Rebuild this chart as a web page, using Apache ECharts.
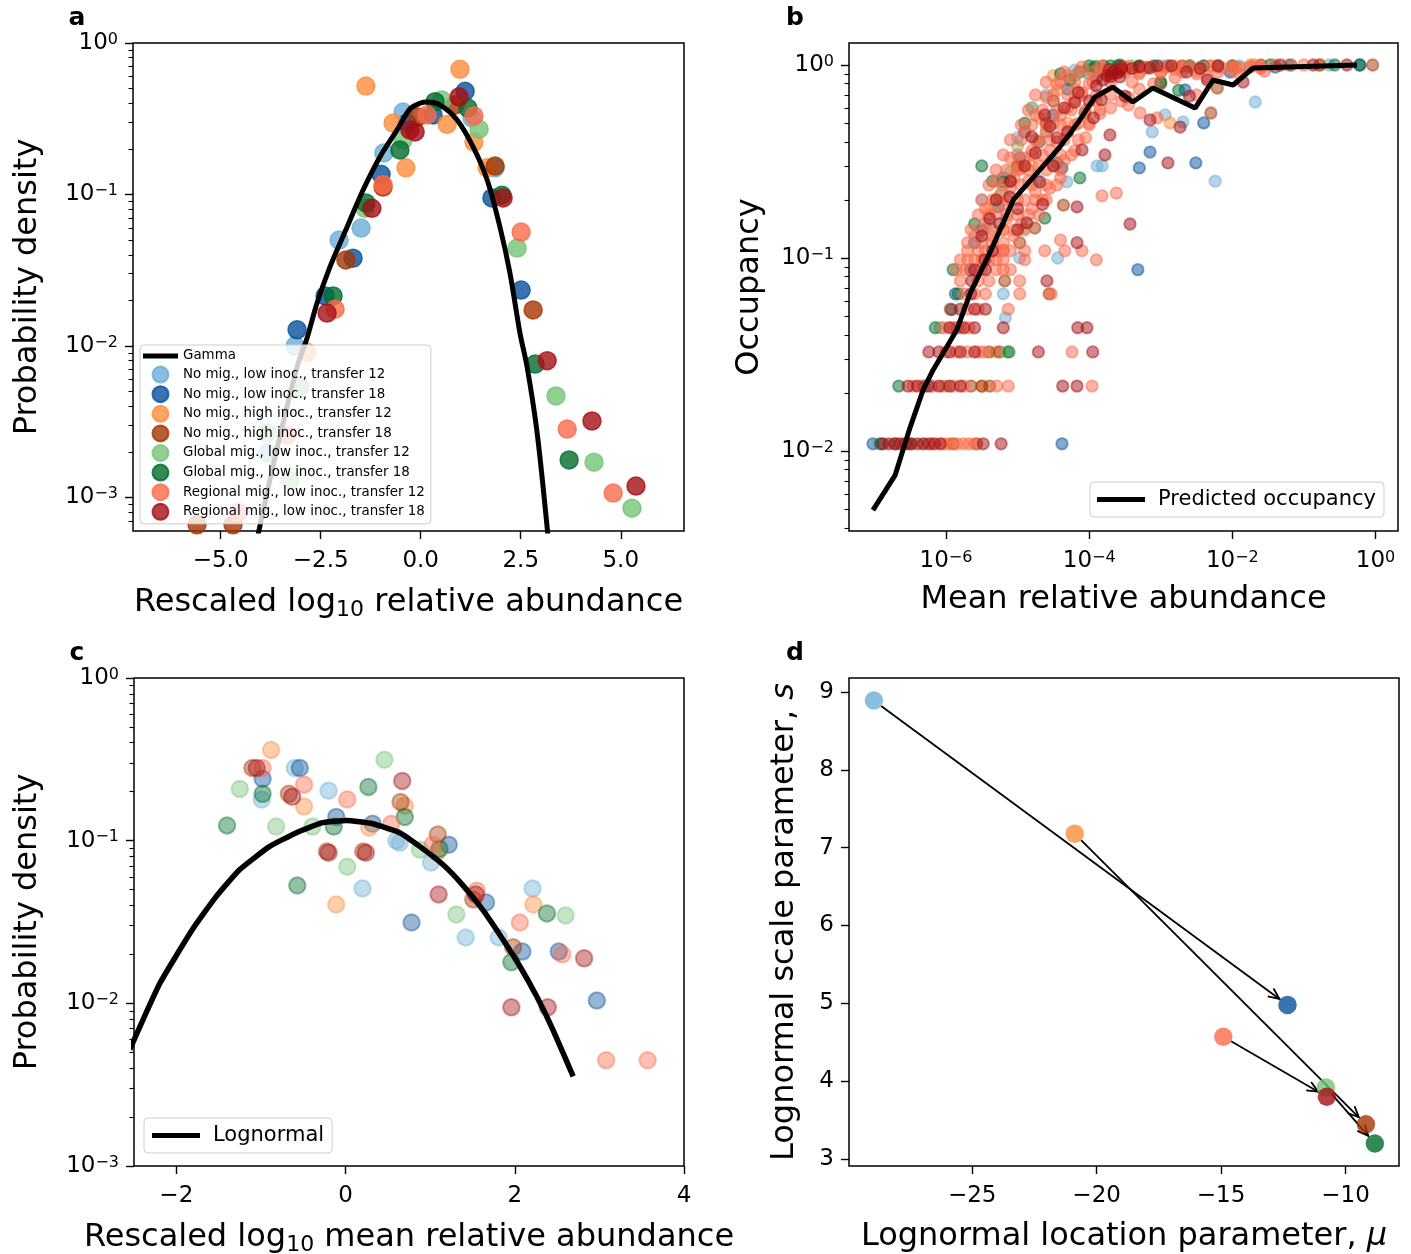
<!DOCTYPE html>
<html><head><meta charset="utf-8">
<script src="https://cdn.jsdelivr.net/npm/echarts@6/dist/echarts.min.js"></script>
<style>html,body{margin:0;padding:0;background:#fff}#chart{width:1411px;height:1254px}</style>
</head><body><div id="chart"></div>
<script>
const FONT = 'DejaVu Sans';
const NAMES = ['No mig., low inoc., transfer 12','No mig., low inoc., transfer 18','No mig., high inoc., transfer 12','No mig., high inoc., transfer 18','Global mig., low inoc., transfer 12','Global mig., low inoc., transfer 18','Regional mig., low inoc., transfer 12','Regional mig., low inoc., transfer 18'];
const COLORS = ['#6baed6','#08519c','#fd8d3c','#a63603','#74c476','#006d2c','#fb6a4a','#a50f15'];

// ---- Panel a: [rescaled log10 relative abundance, probability density]
const a_noLowT12 = [[-0.44,0.35],[-0.92,0.188],[-1.49,0.060],[-2.04,0.050],[-3.14,0.0100],[1.28,0.32],[1.86,0.15],[-3.82,0.00197]];
const a_noLowT18 = [[-0.34,0.296],[-0.99,0.136],[-1.69,0.038],[-2.39,0.0214],[-3.09,0.0128],[1.11,0.48],[0.31,0.335],[1.78,0.095],[2.51,0.0234]];
const a_noHighT12 = [[-1.37,0.52],[-0.69,0.296],[-0.37,0.150],[0.98,0.67],[0.66,0.29],[1.33,0.222],[1.66,0.150],[-2.84,0.0091]];
const a_noHighT18 = [[-0.94,0.112],[-1.87,0.037],[0.86,0.39],[-0.07,0.325],[1.86,0.154],[2.81,0.0173],[-5.59,0.00066],[-4.69,0.00066]];
const a_globalT12 = [[-0.44,0.229],[-1.39,0.081],[0.53,0.42],[1.46,0.27],[2.41,0.0443],[3.38,0.00468],[4.33,0.00171],[5.28,0.00085],[-3.84,0.00267],[-3.02,0.00536],[-3.27,0.0013]];
const a_globalT18 = [[-0.52,0.197],[-1.37,0.088],[-2.19,0.0214],[0.36,0.41],[1.18,0.372],[2.03,0.099],[2.86,0.0076],[3.71,0.00177]];
const a_regionalT12 = [[-0.94,0.116],[-2.14,0.0175],[1.33,0.33],[0.16,0.335],[2.51,0.0565],[3.66,0.00283],[4.81,0.00107],[-3.34,0.00259],[-4.57,0.0008]];
const a_regionalT18 = [[-0.27,0.267],[-1.22,0.081],[-2.34,0.0165],[0.96,0.44],[-0.14,0.259],[2.06,0.095],[3.16,0.0080],[4.28,0.0032],[5.38,0.00119]];
const a_gammaX = [-4.07,-3.77,-3.44,-3.09,-2.84,-2.59,-2.27,-1.84,-1.44,-1.02,-0.59,-0.27,-0.02,0.16,0.48,0.91,1.31,1.66,1.98,2.23,2.48,2.66,2.91,3.18];
const a_gammaY = [0.00056,0.0013,0.0031,0.00726,0.0113,0.0192,0.0332,0.061,0.107,0.177,0.267,0.367,0.40,0.408,0.39,0.31,0.206,0.125,0.061,0.0303,0.0122,0.00726,0.00267,0.00056];
const a_xTicks = [-5,-2.5,0,2.5,5];

// ---- Panel b: [log10 mean relative abundance, occupancy]
const b_noLowT12 = [[-6.9,0.0109],[-6.55,0.0109],[-6.2,0.0217],[-5.17,0.049],[-5.2,0.0652],[-4.97,0.1],[-4.44,0.1],[-4.31,0.248],[-3.89,0.30],[-3.82,0.30],[-4.73,0.254],[-3.12,0.45],[-2.94,0.551],[-2.69,0.507],[-2.24,0.25],[-1.68,0.643],[-1.22,1.0],[-0.65,1.0],[-4.6,0.70],[-4.2,0.94],[-5.5,0.2],[-5.0,0.42],[-3.6,0.98],[-3.0,0.99],[-2.4,0.99],
 [-5.4,0.15],[-4.8,0.6],[-4.0,0.9],[-3.2,0.97],[-1.9,0.99]];
const b_noLowT18 = [[-7.02,0.0109],[-4.38,0.0109],[-5.87,0.0652],[-5.92,0.054],[-5.66,0.087],[-4.97,0.33],[-5.27,0.184],[-4.38,0.293],[-4.13,0.92],[-3.32,0.087],[-3.15,0.354],[-3.30,0.293],[-2.51,0.311],[-2.40,0.501],[-2.03,0.92],[-2.66,0.742],[-1.40,0.976],[-0.22,1.0],[-4.5,0.55],[-3.9,0.85],[-5.6,0.12],
 [-5.5,0.14],[-5.2,0.26],[-4.9,0.45],[-4.3,0.75],[-3.6,0.99],[-2.9,0.99],[-2.2,0.99],[-6.7,0.0109]];
const b_noHighT12 = [[-6.0,0.0109],[-5.5,0.0217],[-5.3,0.0326],[-4.45,0.742],[-4.69,0.532],[-2.87,0.501],[-3.6,0.92],[-3.3,0.988],[-2.6,0.976],[-2.3,0.988],[-1.75,1.0],[-0.78,1.0],[-5.2,0.14],[-5.0,0.30],[-4.2,0.75],[-3.9,0.65],
 [-4.5,0.88],[-4.0,0.95],[-3.45,0.99],[-2.8,0.99],[-2.0,0.99],[-5.4,0.18],[-4.8,0.3],[-4.3,0.5]];
const b_noHighT18 = [[-5.9,0.0109],[-5.57,0.0109],[-5.65,0.0217],[-5.5,0.0217],[-5.39,0.0217],[-5.4,0.0326],[-5.25,0.0326],[-5.85,0.0435],[-5.94,0.0543],[-4.56,0.0652],[-5.18,0.0761],[-4.97,0.12],[-4.76,0.143],[-4.36,0.188],[-4.06,0.564],[-2.30,0.564],[-2.21,0.76],[-3.0,0.80],[-1.18,1.0],[-0.78,1.0],[-0.04,1.0],[-5.1,0.25],[-4.6,0.5],
 [-3.8,0.99],[-3.3,0.97],[-2.7,0.99],[-1.6,1.0],[-5.0,0.3],[-4.5,0.65]];
const b_globalT12 = [[-6.7,0.0109],[-6.3,0.0109],[-6.0,0.0217],[-5.15,0.0326],[-6.08,0.0435],[-4.9,0.143],[-5.3,0.2],[-5.22,0.22],[-4.06,0.92],[-3.6,0.988],[-2.59,0.988],[-1.75,0.976],[-4.6,0.45],[-5.0,0.38],[-3.2,0.96],
 [-4.2,0.88],[-3.9,0.99],[-3.4,0.99],[-2.9,0.99],[-2.2,0.99],[-5.1,0.28],[-4.8,0.6]];
const b_globalT18 = [[-6.92,0.0109],[-6.5,0.0109],[-6.66,0.0217],[-6.3,0.0217],[-5.12,0.0326],[-6.15,0.0435],[-5.83,0.0652],[-4.27,0.836],[-4.45,0.311],[-5.2,0.248],[-4.13,0.26],[-4.62,0.161],[-3.92,0.976],[-2.75,0.74],[-3.0,0.816],[-1.47,1.0],[-0.57,1.0],[-0.22,1.0],[-3.57,1.0],[-3.3,0.99],[-2.4,0.99],[-5.5,0.3],[-4.9,0.5],
 [-4.4,0.9],[-4.0,0.99],[-3.7,0.99],[-3.1,0.99],[-2.6,0.99],[-2.0,0.99],[-5.35,0.25],[-4.7,0.4],[-5.9,0.087],[-5.6,0.15]];
const b_regionalT12 = [
 [-6.6,0.0109],[-6.2,0.0109],[-6.05,0.0109],[-5.95,0.0109],[-5.85,0.0109],[-5.76,0.0109],[-5.68,0.0109],[-5.6,0.0109],
 [-6.46,0.0217],[-6.33,0.0217],[-6.2,0.0217],[-6.05,0.0217],[-5.9,0.0217],[-5.75,0.0217],[-5.29,0.0217],[-5.13,0.0217],[-3.96,0.0217],
 [-6.0,0.0326],[-5.85,0.0326],[-5.7,0.0326],[-5.55,0.0326],[-5.48,0.0326],[-4.24,0.0326],
 [-6.04,0.0435],[-5.9,0.0435],[-5.8,0.0435],[-5.68,0.0435],
 [-5.7,0.0543],[-5.55,0.0543],[-5.13,0.0543],
 [-5.75,0.0652],[-5.6,0.0652],[-5.45,0.0652],[-4.97,0.0652],[-4.53,0.0652],
 [-5.8,0.0761],[-5.55,0.0761],[-5.4,0.0761],[-4.97,0.0761],
 [-5.73,0.087],[-5.5,0.087],[-5.3,0.087],[-5.1,0.087],[-5.85,0.087],[-5.65,0.087],[-5.2,0.087],
 [-5.6,0.0978],[-5.4,0.0978],[-5.2,0.0978],[-4.9,0.0978],[-3.9,0.0978],[-5.8,0.0978],[-5.7,0.0978],[-5.5,0.0978],[-5.3,0.0978],
 [-5.55,0.109],[-5.3,0.109],[-4.9,0.109],[-4.62,0.109],[-4.34,0.109],[-5.7,0.109],[-5.45,0.109],[-5.2,0.109],[-5.1,0.109],
 [-5.7,0.12],[-5.35,0.12],[-5.2,0.12],
 [-5.65,0.14],[-5.5,0.14],[-5.35,0.14],[-5.2,0.14],[-5.05,0.14],[-4.9,0.14],
 [-5.55,0.167],[-5.4,0.167],[-5.15,0.167],[-5.0,0.167],[-4.85,0.167],[-4.7,0.167],
 [-5.5,0.2],[-5.35,0.2],[-5.15,0.2],[-4.9,0.2],[-4.75,0.2],[-4.6,0.2],
 [-5.4,0.239],[-5.2,0.239],[-4.95,0.239],[-4.8,0.239],[-4.6,0.239],[-4.45,0.239],
 [-5.3,0.286],[-5.15,0.286],[-5.0,0.286],[-4.85,0.286],[-4.6,0.286],[-4.4,0.286],
 [-5.2,0.342],[-5.0,0.342],[-4.8,0.342],[-4.65,0.342],[-4.4,0.342],[-4.25,0.342],
 [-5.1,0.409],[-4.95,0.409],[-4.75,0.409],[-4.55,0.409],[-4.35,0.409],[-4.15,0.409],
 [-4.95,0.489],[-4.8,0.489],[-4.6,0.489],[-4.4,0.489],[-4.2,0.489],[-4.0,0.489],
 [-4.85,0.584],[-4.65,0.584],[-4.45,0.584],[-4.25,0.584],[-4.05,0.584],[-3.85,0.584],
 [-4.75,0.699],[-4.5,0.699],[-4.3,0.699],[-4.1,0.699],[-3.9,0.699],[-3.7,0.699],
 [-4.6,0.816],[-4.4,0.816],[-4.2,0.816],[-3.95,0.816],[-3.7,0.816],[-3.4,0.816],
 [-4.35,0.92],[-4.15,0.92],[-3.95,0.92],[-3.6,0.92],[-3.3,0.92],[-3.0,0.92],[-2.7,0.92],
 [-4.1,0.976],[-3.85,0.976],[-3.5,0.976],[-3.2,0.976],[-2.95,0.976],[-2.7,0.976],[-2.45,0.976],[-2.2,0.976],[-1.95,0.976],[-1.75,0.976],
 [-5.5,0.12],[-5.35,0.13],[-5.45,0.15],[-5.3,0.17],[-5.2,0.19],[-5.25,0.21],[-5.1,0.23],[-5.05,0.26],[-4.95,0.29],[-4.9,0.33],[-4.8,0.36],[-4.7,0.40],[-4.6,0.45],[-4.5,0.50],[-4.4,0.55],[-4.3,0.60],[-4.2,0.66],[-4.1,0.72],[-4.0,0.80],[-3.9,0.86],[-3.75,0.90],[-3.6,0.93],[-3.45,0.95],[-3.2,0.97],[-2.9,0.98],[-2.6,0.99],[-2.3,0.99],[-2.0,0.99],[-1.7,1.0],[-1.4,1.0],[-1.0,1.0],
 [-5.2,0.11],[-5.05,0.13],[-4.95,0.15],[-4.8,0.18],[-4.65,0.20],[-4.55,0.23],[-4.4,0.26],[-4.35,0.32],[-4.2,0.36],[-4.05,0.42],[-4.0,0.50],[-3.85,0.56],[-3.7,0.60],[-3.55,0.65],[-3.45,0.68],[-3.3,0.75],[-3.1,0.80],[-2.8,0.86],[-2.5,0.90],[-2.0,0.93],[-1.6,0.96],
 [-4.75,0.55],[-4.6,0.68],[-4.45,0.80],[-4.3,0.88],[-4.9,0.45],[-5.1,0.33],[-5.3,0.25],[-5.45,0.18],[-5.6,0.13],
 [-5.0,0.2],[-4.85,0.25],[-4.7,0.3],[-4.55,0.36],[-4.45,0.4],[-4.3,0.45],[-4.15,0.5],[-5.15,0.16],[-4.75,0.22],[-4.5,0.3],
 [-3.82,0.21],[-3.62,0.217],[-4.4,0.124],[-4.1,0.109],[-3.45,0.62],[-3.29,0.564],[-3.05,0.532],[-2.35,0.86],[-2.5,0.70],[-2.2,0.92],[-1.9,0.90],
 [-3.8,0.95],[-3.5,0.92],[-3.3,0.90],[-3.0,0.92],[-2.8,0.95],[-2.5,0.93],[-2.15,0.97],[-1.9,0.97],[-1.6,0.98],[-1.55,0.93]
];
const b_regionalT18 = [
 [-6.88,0.0109],[-6.8,0.0109],[-6.72,0.0109],[-6.64,0.0109],[-6.56,0.0109],[-6.48,0.0109],[-6.4,0.0109],[-6.32,0.0109],[-6.24,0.0109],[-6.16,0.0109],[-6.08,0.0109],[-5.48,0.0109],[-5.23,0.0109],
 [-6.53,0.0217],[-6.4,0.0217],[-6.25,0.0217],[-6.1,0.0217],[-5.95,0.0217],[-5.8,0.0217],[-4.37,0.0217],[-4.17,0.0217],
 [-6.24,0.0326],[-6.1,0.0326],[-5.95,0.0326],[-5.8,0.0326],[-5.6,0.0326],[-4.71,0.0326],[-3.95,0.0326],
 [-5.95,0.0435],[-5.75,0.0435],[-5.6,0.0435],[-5.2,0.0435],[-4.16,0.0435],[-4.03,0.0435],
 [-5.8,0.0543],[-5.6,0.0543],[-5.45,0.0543],
 [-5.65,0.0652],[-5.64,0.0761],[-4.59,0.0761],[-5.45,0.087],[-5.46,0.0978],
 [-5.39,0.16],[-5.25,0.15],[-5.0,0.18],[-4.5,0.30],[-4.3,0.45],[-4.0,0.65],[-4.2,0.64],[-4.45,0.42],
 [-4.62,0.551],[-4.8,0.424],[-5.11,0.207],[-4.87,0.152],[-4.69,0.248],[-4.17,0.184],[-4.17,0.12],[-4.1,0.363],[-3.94,0.532],[-3.71,0.434],[-3.81,0.836],[-3.57,0.867],[-3.68,0.90],[-3.75,0.88],[-3.72,0.95],[-3.65,0.93],[-3.6,0.91],[-3.7,0.87],[-3.55,0.95],
 [-3.15,0.965],[-2.64,0.92],[-2.35,0.836],[-1.85,0.816],[-1.33,1.0],[-0.87,1.0],[-0.4,1.0],
 [-3.15,0.519],[-2.73,0.477],[-3.78,0.342],[-2.9,0.311],[-3.43,0.15],[-3.5,0.69],[-2.6,0.69],[-3.83,0.66],
 [-5.5,0.13],[-5.3,0.2],[-5.1,0.25],[-4.9,0.3],[-4.75,0.35],[-4.55,0.48],[-4.35,0.6],[-4.15,0.72],[-3.9,0.78],[-3.55,0.98],[-3.4,0.96],[-3.3,0.98],[-3.05,0.99],[-2.85,0.99],[-2.45,0.96],[-2.2,0.99],[-5.6,0.087],[-5.35,0.109],[-5.0,0.14],[-4.65,0.19]
];
const b_predLogMean = [-7.02,-6.71,-6.50,-6.32,-6.18,-5.99,-5.85,-5.66,-5.39,-5.06,-4.69,-4.41,-4.13,-3.92,-3.67,-3.39,-3.11,-2.52,-2.27,-1.99,-1.71,-0.26];
const b_predOcc = [0.00494,0.0075,0.0133,0.0207,0.0263,0.0346,0.0424,0.0659,0.106,0.20,0.286,0.376,0.519,0.683,0.769,0.643,0.760,0.598,0.836,0.788,0.965,1.0];

// ---- Panel c: [rescaled log10 mean relative abundance, probability density]
const c_noLowT12 = [[-0.60,0.28],[-0.99,0.179],[-0.20,0.203],[0.60,0.10],[0.20,0.0508],[1.01,0.0733],[1.42,0.0254],[1.81,0.0254],[2.21,0.0508],[0.64,0.097]];
const c_noLowT18 = [[-0.54,0.28],[-0.98,0.24],[-0.11,0.14],[0.32,0.127],[0.78,0.0314],[1.22,0.0945],[1.66,0.0417],[2.09,0.0208],[2.52,0.0208],[2.97,0.0104]];
const c_noHighT12 = [[-0.88,0.361],[-0.49,0.162],[-0.11,0.0405],[0.70,0.164],[1.08,0.0844],[2.22,0.0405],[0.28,0.12]];
const c_noHighT18 = [[-1.10,0.28],[-0.67,0.194],[-0.22,0.0857],[0.21,0.0857],[0.65,0.173],[1.09,0.109],[1.51,0.0435],[1.98,0.0221]];
const c_globalT12 = [[-1.25,0.208],[-0.82,0.122],[-0.39,0.122],[0.02,0.0692],[0.46,0.314],[0.88,0.088],[1.31,0.0352],[2.60,0.0347]];
const c_globalT18 = [[-1.40,0.124],[-0.98,0.194],[-0.57,0.053],[-0.14,0.122],[0.27,0.214],[0.70,0.14],[1.11,0.089],[1.96,0.0179],[2.38,0.0357]];
const c_regionalT12 = [[-0.98,0.28],[-0.49,0.221],[0.02,0.179],[0.54,0.127],[1.03,0.0945],[1.55,0.0493],[2.06,0.0314],[2.56,0.02],[3.08,0.00447],[3.57,0.00447]];
const c_regionalT18 = [[-1.05,0.28],[-0.63,0.186],[-0.20,0.0844],[0.24,0.0844],[0.67,0.233],[1.10,0.0467],[1.54,0.0467],[2.82,0.0189],[1.96,0.00945],[2.39,0.00945]];
const c_lnX = [-2.55,-2.20,-1.81,-1.53,-1.25,-0.90,-0.58,-0.27,0.01,0.32,0.64,0.88,1.15,1.38,1.62,1.86,2.06,2.26,2.45,2.69];
const c_lnY = [0.0052,0.0131,0.0284,0.0453,0.0664,0.0919,0.112,0.129,0.133,0.127,0.112,0.0919,0.0713,0.0537,0.0377,0.0247,0.0169,0.011,0.0069,0.00356];
const c_xTicks = [-2,0,2,4];

// ---- Panel d: lognormal parameters per condition
const d_mu = [-28.95,-12.33,-20.88,-9.18,-10.79,-8.82,-14.91,-10.75];
const d_s = [8.89,4.98,7.18,3.445,3.92,3.20,4.57,3.80];
const d_arrows = [[0,1],[2,3],[4,5],[6,7]];
const d_xTicks = [-25,-20,-15,-10];
const d_yTicks = [3,4,5,6,7,8,9];

const A_SETS = [a_noLowT12,a_noLowT18,a_noHighT12,a_noHighT18,a_globalT12,a_globalT18,a_regionalT12,a_regionalT18];
const B_SETS = [b_noLowT12,b_noLowT18,b_noHighT12,b_noHighT18,b_globalT12,b_globalT18,b_regionalT12,b_regionalT18];
const C_SETS = [c_noLowT12,c_noLowT18,c_noHighT12,c_noHighT18,c_globalT12,c_globalT18,c_regionalT12,c_regionalT18];

const L = Math.log10;
function minorLogs(lo, hi){ const out=[]; for(let e=Math.floor(lo); e<=Math.ceil(hi); e++){ for(let m=2;m<=9;m++){ const v=e+Math.log10(m); if(v>lo+1e-6 && v<hi-1e-6) out.push(v);} } return out; }
const RICH = {sup:{fontSize:16, fontFamily:FONT, color:'#000', verticalAlign:'top', lineHeight:9}};
const NAME_RICH = {sub:{fontSize:22, fontFamily:FONT, color:'#000', verticalAlign:'bottom', lineHeight:20}, i:{fontSize:32, fontFamily:FONT, color:'#000', fontStyle:'italic'}};
function logFmt(v){ const e=Math.round(v); return '10{sup|'+(e<0?'\u2212'+(-e):String(e))+'}'; }
function numFmt(d){ return v => (v<0?'\u2212':'') + Math.abs(v).toFixed(d); }

function majAxis(gridIndex, min, max, ticks, fmt, extra){
  return Object.assign({
    type:'value', gridIndex, min, max, scale:true,
    axisLine:{show:false, onZero:false}, splitLine:{show:false},
    axisTick:{show:true, length:8, lineStyle:{color:'#000', width:1.4}, customValues:ticks},
    axisLabel:{show:true, customValues:ticks, formatter:fmt, fontFamily:FONT, fontSize:23, lineHeight:23, color:'#000', margin:15, rich:RICH},
    nameLocation:'middle', nameMoveOverlap:false,
    nameTextStyle:{fontFamily:FONT, fontSize:32, color:'#000', lineHeight:37, rich:NAME_RICH}
  }, extra);
}
function minAxis(gridIndex, min, max, ticks){
  return {type:'value', gridIndex, min, max, position:'left', scale:true,
    axisLine:{show:false, onZero:false}, splitLine:{show:false}, axisLabel:{show:false},
    axisTick:{show:true, length:4.5, lineStyle:{color:'#000', width:1.1}, customValues:ticks}};
}

const aY=[-3.221,0], bY=[-2.4145,0.114], cY=[-3,0];
const xAxis = [
  majAxis(0,-7.19,6.58,a_xTicks,numFmt(1),{name:'Rescaled log{sub|10} relative abundance', nameGap:53}),
  majAxis(1,-7.355,0.314,[-6,-4,-2,0],logFmt,{name:'Mean relative abundance', nameGap:50}),
  majAxis(2,-2.5,4,c_xTicks,numFmt(0),{name:'Rescaled log{sub|10} mean relative abundance', nameGap:53}),
  majAxis(3,-29.95,-7.85,d_xTicks,numFmt(0),{name:'Lognormal location parameter, {i|\u03bc}', nameGap:52})
];
xAxis.forEach(a=>{ a.axisLabel.margin = 19; a.position='bottom'; });
const yAxis = [
  majAxis(0,aY[0],aY[1],[-3,-2,-1,0],logFmt,{position:'left', name:'Probability density', nameGap:87, nameRotate:90}),
  minAxis(0,aY[0],aY[1],minorLogs(aY[0],aY[1])),
  majAxis(1,bY[0],bY[1],[-2,-1,0],logFmt,{position:'left', name:'Occupancy', nameGap:81, nameRotate:90}),
  minAxis(1,bY[0],bY[1],minorLogs(bY[0],bY[1])),
  majAxis(2,cY[0],cY[1],[-3,-2,-1,0],logFmt,{position:'left', name:'Probability density', nameGap:88, nameRotate:90}),
  minAxis(2,cY[0],cY[1],minorLogs(cY[0],cY[1])),
  majAxis(3,2.91,9.18,d_yTicks,numFmt(0),{position:'left', name:'Lognormal scale parameter, {i|s}', nameGap:46, nameRotate:90})
];

const gridBase = {show:true, borderColor:'#000', borderWidth:1.5, backgroundColor:'transparent', containLabel:false, outerBoundsMode:'none'};
const grid = [
  Object.assign({left:133, top:43, width:551, height:488}, gridBase),
  Object.assign({left:849, top:43, width:549, height:488}, gridBase),
  Object.assign({left:134, top:678, width:550, height:488}, gridBase),
  Object.assign({left:849, top:678, width:550, height:488}, gridBase)
];

const series = [];
A_SETS.forEach((arr,i)=>series.push({type:'scatter', name:NAMES[i], xAxisIndex:0, yAxisIndex:0,
  data:arr.map(p=>[p[0], L(p[1])]), symbolSize:18,
  itemStyle:{color:COLORS[i], opacity:0.8, borderColor:COLORS[i], borderWidth:1.5}, z:2}));
series.push({type:'line', name:'Gamma', xAxisIndex:0, yAxisIndex:0, data:a_gammaX.map((x,i)=>[x, L(a_gammaY[i])]),
  symbol:'none', showSymbol:false, smooth:0.3, lineStyle:{color:'#000', width:5}, itemStyle:{color:'#000'}, z:3});
B_SETS.forEach((arr,i)=>series.push({type:'scatter', name:'b '+NAMES[i], xAxisIndex:1, yAxisIndex:2,
  data:arr.map(p=>[p[0], L(p[1])]), symbolSize:11.5,
  itemStyle:{color:COLORS[i], opacity:0.5, borderColor:COLORS[i], borderWidth:1.8}, z:2}));
series.push({type:'line', name:'Predicted occupancy', xAxisIndex:1, yAxisIndex:2, data:b_predLogMean.map((x,i)=>[x, L(b_predOcc[i])]),
  symbol:'none', showSymbol:false, lineStyle:{color:'#000', width:5}, itemStyle:{color:'#000'}, z:3});
C_SETS.forEach((arr,i)=>series.push({type:'scatter', name:'c '+NAMES[i], xAxisIndex:2, yAxisIndex:4,
  data:arr.map(p=>[p[0], L(p[1])]), symbolSize:16.5,
  itemStyle:{color:COLORS[i], opacity:0.42, borderColor:COLORS[i], borderWidth:2}, z:2}));
series.push({type:'line', name:'Lognormal', xAxisIndex:2, yAxisIndex:4, data:c_lnX.map((x,i)=>[x, L(c_lnY[i])]),
  symbol:'none', showSymbol:false, smooth:0.15, lineStyle:{color:'#000', width:5.5}, itemStyle:{color:'#000'}, z:3});
series.push({type:'custom', name:'d arrows', xAxisIndex:3, yAxisIndex:6, silent:true, z:1,
  data:d_arrows.map(([i,j])=>[d_mu[i], d_s[i], d_mu[j], d_s[j]]),
  encode:{x:[0,2], y:[1,3]},
  renderItem(params, api){
    const p0=api.coord([api.value(0),api.value(1)]), p1=api.coord([api.value(2),api.value(3)]);
    const dx=p1[0]-p0[0], dy=p1[1]-p0[1], len=Math.hypot(dx,dy), ux=dx/len, uy=dy/len;
    const s=[p0[0]+ux*9, p0[1]+uy*9], e=[p1[0]-ux*10, p1[1]-uy*10];
    const hl=12, c=Math.cos(0.42), sn=Math.sin(0.42), bx=-ux, by=-uy;
    const h1=[e[0]+hl*(bx*c-by*sn), e[1]+hl*(bx*sn+by*c)];
    const h2=[e[0]+hl*(bx*c+by*sn), e[1]+hl*(-bx*sn+by*c)];
    return {type:'group', children:[
      {type:'line', shape:{x1:s[0],y1:s[1],x2:e[0],y2:e[1]}, style:{stroke:'#000', lineWidth:1.8}},
      {type:'polyline', shape:{points:[h1,e,h2]}, style:{stroke:'#000', lineWidth:1.8, fill:null}}
    ]};
  }});
series.push({type:'scatter', name:'d points', xAxisIndex:3, yAxisIndex:6, symbolSize:18.5, z:2,
  data:d_mu.map((m,i)=>({value:[m,d_s[i]], itemStyle:{color:COLORS[i]}}))});

const legendBox = {backgroundColor:'rgba(255,255,255,0.8)', borderColor:'#cccccc', borderWidth:1, borderRadius:4, selectedMode:false};
const legend = [
  Object.assign({left:140, top:345, orient:'vertical', padding:[3,6,3,3], itemGap:1.6, itemWidth:35, itemHeight:16,
    textStyle:{fontFamily:FONT, fontSize:13.4, lineHeight:16, color:'#000'},
    data:[{name:'Gamma', icon:'path://M0,0H35V5H0Z'}].concat(NAMES.map(n=>({name:n, icon:'circle'})))}, legendBox),
  Object.assign({left:1090, top:482, padding:[7,8,7,7], itemWidth:48, itemHeight:22,
    textStyle:{fontFamily:FONT, fontSize:21, color:'#000', padding:[0,0,0,8]},
    data:[{name:'Predicted occupancy', icon:'path://M0,0H48V5H0Z'}]}, legendBox),
  Object.assign({left:144, top:1118, padding:[7,8,7,8], itemWidth:48, itemHeight:22,
    textStyle:{fontFamily:FONT, fontSize:21, color:'#000', padding:[0,0,0,8]},
    data:[{name:'Lognormal', icon:'path://M0,0H48V5H0Z'}]}, legendBox)
];

const letters = [['a',77,18],['b',795,18],['c',77,653],['d',795,653]].map(([t,x,y])=>({
  type:'text', x, y, style:{text:t, font:'bold 25px "DejaVu Sans"', fill:'#000', align:'center', verticalAlign:'middle'}}));

const chart = echarts.init(document.getElementById('chart'), null, {renderer:'canvas'});
chart.setOption({animation:false, backgroundColor:'#fff', grid, xAxis, yAxis, series, legend, graphic:letters});
</script></body></html>
